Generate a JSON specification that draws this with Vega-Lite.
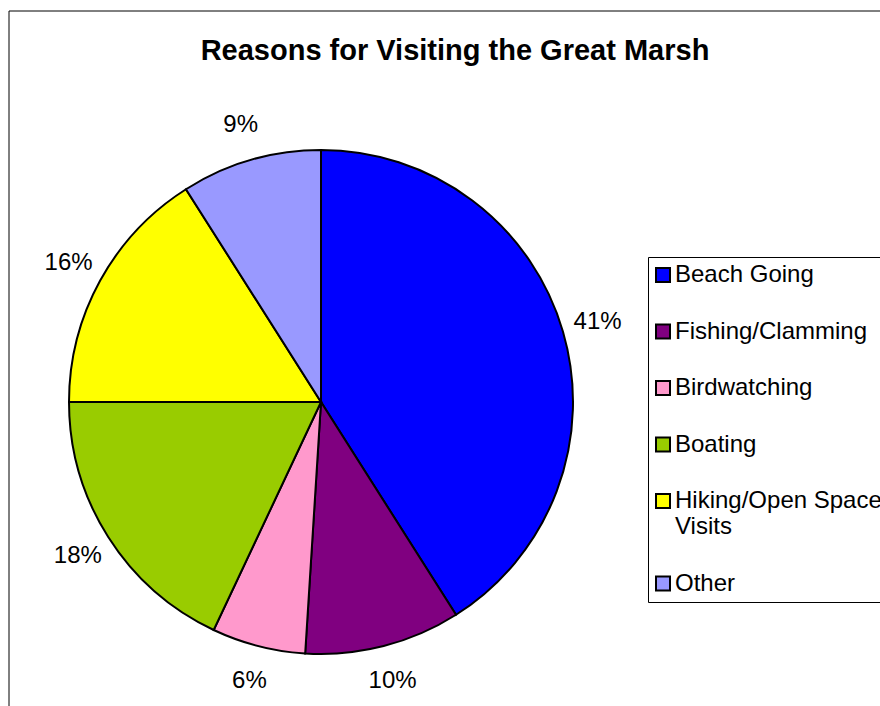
{
  "$schema": "https://vega.github.io/schema/vega-lite/v6.json",
  "autosize": {"type": "none"},
  "padding": {"left": 9, "top": 11, "right": 0, "bottom": 0},
  "width": 880,
  "height": 720,
  "background": "white",
  "title": {
    "text": "Reasons for Visiting the Great Marsh",
    "font": "Liberation Sans",
    "fontSize": 29,
    "fontWeight": "bold",
    "color": "black",
    "anchor": "middle",
    "dx": 6,
    "baseline": "alphabetic",
    "offset": -78
  },
  "layer": [
    {
      "data": {"values": [{"frame": "chart area"}]},
      "mark": {"type": "rect", "fill": null, "stroke": "black", "strokeWidth": 1},
      "encoding": {}
    },
    {
      "data": {"name": "shares"},
      "layer": [
        {
          "mark": {"type": "arc", "outerRadius": 252, "x": 312, "y": 391, "stroke": "black", "strokeWidth": 2},
          "encoding": {
            "theta": {"field": "share", "type": "quantitative", "stack": true},
            "order": {"field": "rank", "type": "quantitative"},
            "color": {
              "field": "reason",
              "type": "nominal",
              "scale": {
                "domain": ["Beach Going", "Fishing/Clamming", "Birdwatching", "Boating", "Hiking/Open Space Visits", "Other"],
                "range": ["#0000FF", "#800080", "#FF99CC", "#99CC00", "#FFFF00", "#9999FF"]
              },
              "legend": {
                "title": null,
                "orient": "none",
                "legendX": 639,
                "legendY": 246,
                "padding": 6,
                "strokeColor": "black",
                "fillColor": "white",
                "symbolType": "square",
                "symbolSize": 196,
                "symbolStrokeColor": "black",
                "symbolStrokeWidth": 2,
                "symbolOpacity": 1,
                "symbolOffset": -3,
                "labelFont": "Liberation Sans",
                "labelFontSize": 24,
                "labelColor": "black",
                "labelLimit": 400,
                "labelOffset": 0,
                "rowPadding": 32.5,
                "labelExpr": "datum.label == 'Hiking/Open Space Visits' ? ['Hiking/Open Space', 'Visits'] : datum.label"
              }
            }
          }
        },
        {
          "mark": {"type": "text", "radius": 288, "x": 312, "y": 391, "font": "Liberation Sans", "fontSize": 24, "color": "black", "align": "center", "baseline": "middle"},
          "encoding": {
            "theta": {"field": "share", "type": "quantitative", "stack": true},
            "order": {"field": "rank", "type": "quantitative"},
            "text": {"field": "share", "type": "quantitative", "format": ".0%"}
          }
        }
      ]
    }
  ],
  "datasets": {
    "shares": [
      {"reason": "Beach Going", "share": 0.41, "rank": 1},
      {"reason": "Fishing/Clamming", "share": 0.10, "rank": 2},
      {"reason": "Birdwatching", "share": 0.06, "rank": 3},
      {"reason": "Boating", "share": 0.18, "rank": 4},
      {"reason": "Hiking/Open Space Visits", "share": 0.16, "rank": 5},
      {"reason": "Other", "share": 0.09, "rank": 6}
    ]
  },
  "config": {
    "view": {"stroke": null}
  }
}
